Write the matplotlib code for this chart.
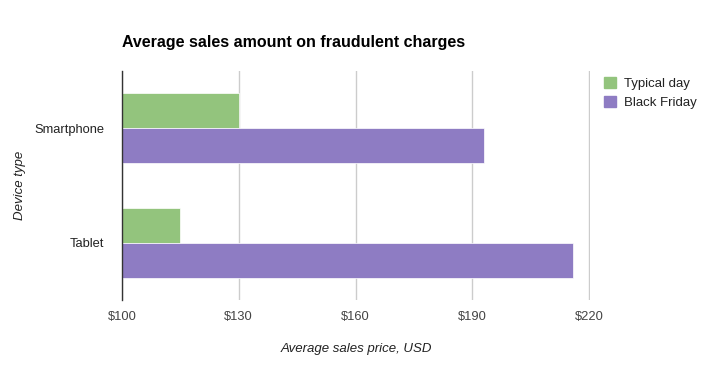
import numpy as np
import matplotlib
matplotlib.use("Agg")
import matplotlib.pyplot as plt
from matplotlib.patches import Patch

plt.rcParams["font.family"] = ["Liberation Sans", "DejaVu Sans"]

devices = ["Smartphone", "Tablet"]
typical_day = [130, 115]
black_friday = [193, 216]
series_names = ["Typical day", "Black Friday"]
colors = ["#93c47d", "#8e7cc3"]
xticks = [100, 130, 160, 190, 220]

fig = plt.figure(figsize=(7.12, 3.73), dpi=100)
ax = fig.add_axes([122 / 712, 73 / 373, 468 / 712, 229 / 373])

y = np.arange(len(devices))
h = 0.305
ax.barh(y - h / 2, np.array(typical_day) - 100, left=100, height=h,
        color=colors[0], edgecolor="white", linewidth=0.5, zorder=2)
ax.barh(y + h / 2, np.array(black_friday) - 100, left=100, height=h,
        color=colors[1], edgecolor="white", linewidth=0.5, zorder=2)

ax.set_xlim(100, 220.25)
ax.set_ylim(1.5, -0.5)
ax.set_xticks(xticks)
ax.set_xticklabels(["$%d" % v for v in xticks], color="#444444", fontsize=9.3)
ax.set_yticks(y)
ax.set_yticklabels(devices, color="#222222", fontsize=9.3)
ax.tick_params(axis="x", length=0, pad=8)
ax.tick_params(axis="y", length=0, pad=13)
ax.grid(axis="x", color="#cccccc", linewidth=1, zorder=0)
for s in ["top", "right", "bottom"]:
    ax.spines[s].set_visible(False)
ax.spines["left"].set_color("#333333")
ax.spines["left"].set_linewidth(1)
ax.spines["left"].set_zorder(3)

ax.set_xlabel("Average sales price, USD", fontstyle="italic", color="#222222",
              fontsize=9.5, labelpad=14)
ax.set_ylabel("Device type", fontstyle="italic", color="#222222",
              fontsize=9.5, labelpad=6)

fig.text(122 / 712, 1 - 43 / 373, "Average sales amount on fraudulent charges",
         fontsize=11.5, fontweight="bold", color="#000000", va="center")

handles = [Patch(color=c) for c in colors]
fig.legend(handles, series_names, loc="upper left",
           bbox_to_anchor=(592 / 712, 1 - 65 / 373), frameon=False,
           fontsize=9.5, handlelength=0.9, handleheight=0.9, handletextpad=0.6,
           labelspacing=0.45, labelcolor="#222222")

fig.savefig("out.png", dpi=100)
